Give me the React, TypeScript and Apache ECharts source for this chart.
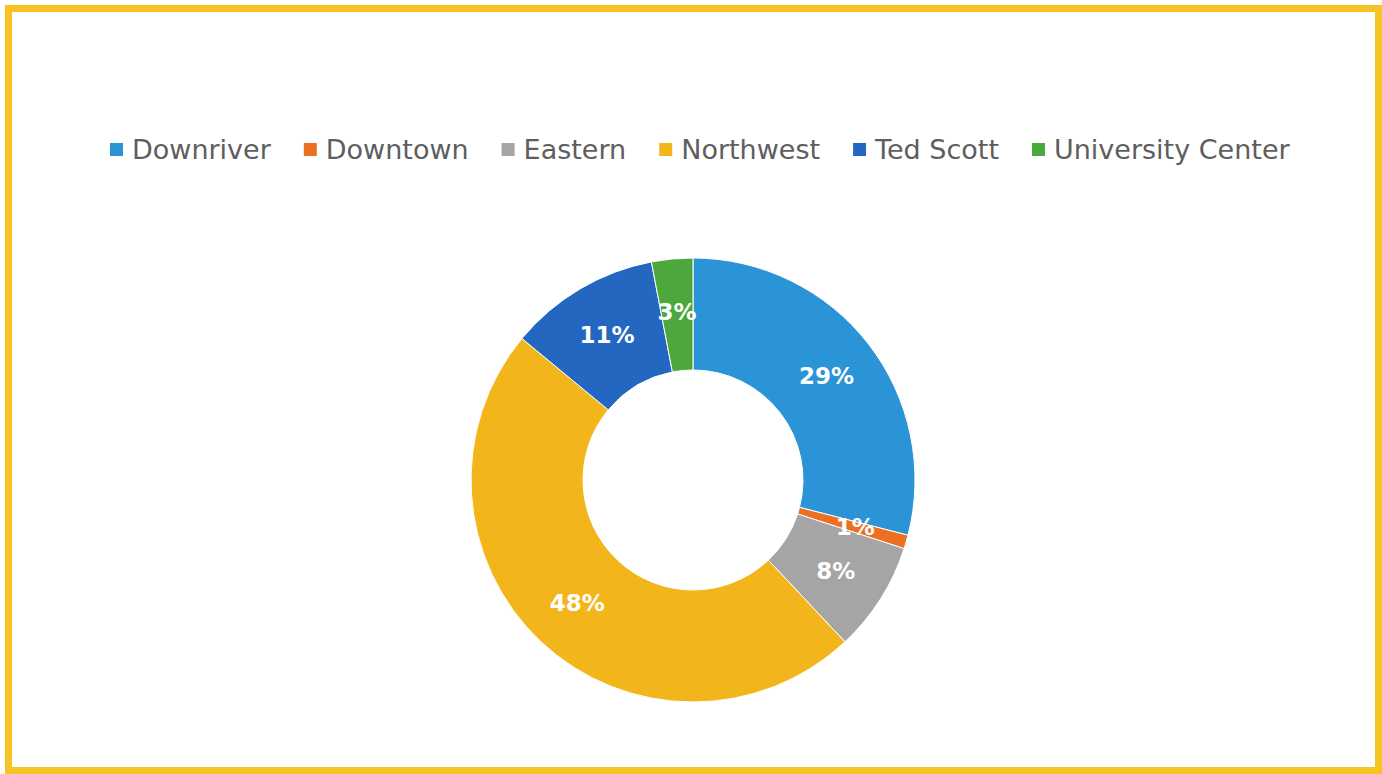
import React, { useEffect, useRef } from "react";
import * as echarts from "echarts";

const categories = ["Downriver", "Downtown", "Eastern", "Northwest", "Ted Scott", "University Center"];
const values = [29, 1, 8, 48, 11, 3];
const colors = ["#2A94D6", "#ED7022", "#A5A5A5", "#F3B51C", "#2467C0", "#4CA83C"];

export default function App() {
  const ref = useRef<HTMLDivElement>(null);
  useEffect(() => {
    document.body.style.margin = "0";
    const chart = echarts.init(ref.current!, null, { renderer: "svg" });
    chart.setOption({
      animation: false,
      backgroundColor: "#ffffff",
      color: colors,
      legend: {
        top: 131,
        left: 103,
        itemWidth: 15,
        itemHeight: 15,
        itemGap: 31,
        icon: "rect",
        textStyle: { fontFamily: "DejaVu Sans", fontSize: 27, color: "#5E5E5E", padding: [0, 0, 0, 3] },
        data: categories,
      },
      series: [
        {
          type: "pie",
          center: [693, 480],
          radius: [110, 222],
          startAngle: 90,
          clockwise: true,
          avoidLabelOverlap: false,
          itemStyle: { borderColor: "#ffffff", borderWidth: 1 },
          label: {
            show: true,
            position: "inside",
            formatter: "{c}%",
            color: "#ffffff",
            fontFamily: "DejaVu Sans",
            fontWeight: "bold",
            fontSize: 23,
          },
          labelLine: { show: false },
          data: categories.map((name, i) => ({ name, value: values[i] })),
        },
      ],
    });
    return () => chart.dispose();
  }, []);
  return (
    <div style={{ position: "relative", width: 1382, height: 774, background: "#fff" }}>
      <div ref={ref} style={{ position: "absolute", left: 0, top: 0, width: 1382, height: 774 }} />
      <div
        style={{
          position: "absolute",
          left: 5,
          top: 5,
          width: 1377,
          height: 769,
          border: "7px solid #F6C323",
          boxSizing: "border-box",
          pointerEvents: "none",
        }}
      />
    </div>
  );
}
